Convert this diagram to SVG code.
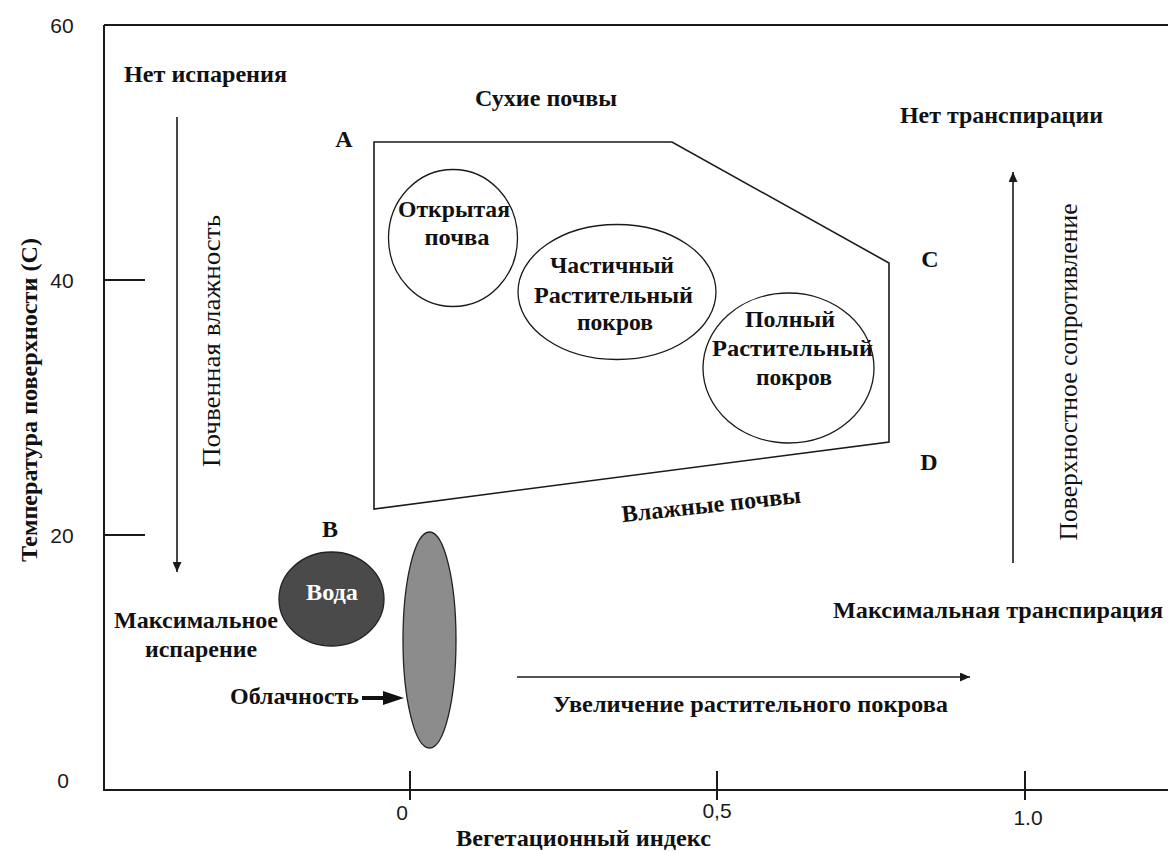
<svg xmlns="http://www.w3.org/2000/svg" width="1168" height="851" viewBox="0 0 1168 851">
<style>
.ax{fill:none;stroke:#1a1a1a;stroke-width:2}
.ln{fill:none;stroke:#1a1a1a;stroke-width:1.6}
.el{fill:none;stroke:#1a1a1a;stroke-width:1.3}
.num{font-family:'Liberation Sans',sans-serif;font-size:21px;fill:#1a1a1a}
.m{text-anchor:middle}
</style>
<defs>
<marker id="ah" viewBox="0 0 10 9" refX="10" refY="4.5" markerWidth="10" markerHeight="9" markerUnits="userSpaceOnUse" orient="auto">
<path d="M0,0 L10,4.5 L0,9 z" fill="#1a1a1a"/>
</marker>
</defs>
<rect width="1168" height="851" fill="#fff"/>
<g id="axes">
<path class="ax" d="M104,25 H1168 M104,25 V790 H1168"/>
<path class="ax" d="M104,280 H145 M104,535 H145 M410,771 V800 M717,771 V800 M1025,771 V800" stroke-width="1.8"/>
<text class="num m" x="62" y="33">60</text>
<text class="num m" x="62" y="288">40</text>
<text class="num m" x="62" y="543">20</text>
<text class="num m" x="63" y="788">0</text>
<text class="num m" x="402" y="820">0</text>
<text class="num m" x="717" y="818">0,5</text>
<text class="num m" x="1028" y="825">1.0</text>
<g font-family="Liberation Serif, Times New Roman, Times, serif" font-size="24" font-weight="bold" fill="#111">
<text x="456" y="846" textLength="255" lengthAdjust="spacingAndGlyphs">Вегетационный индекс</text>
<text text-anchor="middle" transform="translate(37,400) rotate(-90)" x="0" y="0" textLength="324" lengthAdjust="spacingAndGlyphs">Температура поверхности (С)</text>
</g>
</g>
<g id="connectors">
<line class="ln" x1="177" y1="117" x2="177" y2="572" marker-end="url(#ah)"/>
<line class="ln" x1="1013" y1="563" x2="1013" y2="172" marker-end="url(#ah)"/>
<line class="ln" x1="517" y1="677" x2="970" y2="677" marker-end="url(#ah)"/>
<line x1="362" y1="698" x2="386" y2="698" stroke="#111" stroke-width="4"/>
<polygon points="383,691 404,698 383,705" fill="#111"/>
</g>
<g id="labels" font-family="Liberation Serif, Times New Roman, Times, serif" font-size="24" font-weight="bold" fill="#111">
<text x="124" y="82" textLength="163" lengthAdjust="spacingAndGlyphs">Нет испарения</text>
<text text-anchor="middle" font-weight="normal" font-size="25" transform="translate(220,341) rotate(-90)" x="0" y="0" textLength="252" lengthAdjust="spacingAndGlyphs">Почвенная  влажность</text>
<text text-anchor="middle" x="196" y="628" textLength="164" lengthAdjust="spacingAndGlyphs">Максимальное</text>
<text text-anchor="middle" x="201" y="657" textLength="112" lengthAdjust="spacingAndGlyphs">испарение</text>
<text x="230" y="704" textLength="129" lengthAdjust="spacingAndGlyphs">Облачность</text>
<text x="553" y="712" textLength="395" lengthAdjust="spacingAndGlyphs">Увеличение растительного покрова</text>
<text x="900" y="123" textLength="203" lengthAdjust="spacingAndGlyphs">Нет транспирации</text>
<text text-anchor="middle" font-weight="normal" font-size="25" transform="translate(1077,372) rotate(-90)" x="0" y="0" textLength="337" lengthAdjust="spacingAndGlyphs">Поверхностное сопротивление</text>
<text x="833" y="618" textLength="330" lengthAdjust="spacingAndGlyphs">Максимальная транспирация</text>
<text x="475" y="106" textLength="142" lengthAdjust="spacingAndGlyphs">Сухие почвы</text>
<text transform="translate(712,512.5) rotate(-6.2)" x="0" y="0" text-anchor="middle" textLength="180" lengthAdjust="spacingAndGlyphs">Влажные почвы</text>
<text text-anchor="middle" x="344" y="147">A</text>
<text text-anchor="middle" x="330" y="537">B</text>
<text text-anchor="middle" x="930" y="267">C</text>
<text text-anchor="middle" x="929" y="470">D</text>
</g>
<g id="domain">
<polygon class="ln" points="374,142 672,142 889,263 889,442 374,509" stroke-width="1.5"/>
</g>
<g id="bare-soil" font-family="Liberation Serif, Times New Roman, Times, serif" font-size="24" font-weight="bold" fill="#111" text-anchor="middle">
<ellipse class="el" cx="453" cy="238" rx="64.5" ry="68.5"/>
<text x="454" y="217" textLength="112" lengthAdjust="spacingAndGlyphs">Открытая</text>
<text x="457" y="245" textLength="65" lengthAdjust="spacingAndGlyphs">почва</text>
</g>
<g id="partial-cover" font-family="Liberation Serif, Times New Roman, Times, serif" font-size="24" font-weight="bold" fill="#111" text-anchor="middle">
<ellipse class="el" cx="617" cy="292" rx="99" ry="67.5"/>
<text x="612" y="273" textLength="124" lengthAdjust="spacingAndGlyphs">Частичный</text>
<text x="613.5" y="303" textLength="159" lengthAdjust="spacingAndGlyphs">Растительный</text>
<text x="615" y="330" textLength="76" lengthAdjust="spacingAndGlyphs">покров</text>
</g>
<g id="full-cover" font-family="Liberation Serif, Times New Roman, Times, serif" font-size="24" font-weight="bold" fill="#111" text-anchor="middle">
<ellipse class="el" cx="788.5" cy="368" rx="85.5" ry="75"/>
<text x="790" y="327" textLength="90" lengthAdjust="spacingAndGlyphs">Полный</text>
<text x="792.5" y="356" textLength="161" lengthAdjust="spacingAndGlyphs">Растительный</text>
<text x="794" y="385" textLength="76" lengthAdjust="spacingAndGlyphs">покров</text>
</g>
<g id="water" font-family="Liberation Serif, Times New Roman, Times, serif" font-size="24" font-weight="bold" text-anchor="middle">
<ellipse cx="331.5" cy="599" rx="52.5" ry="47" fill="#4a4a4a" stroke="#222" stroke-width="1.3"/>
<text x="332" y="600" fill="#fff" textLength="52" lengthAdjust="spacingAndGlyphs">Вода</text>
</g>
<g id="clouds">
<ellipse cx="429.5" cy="640" rx="26.5" ry="108" fill="#8c8c8c" stroke="#222" stroke-width="1.3"/>
</g>
</svg>
